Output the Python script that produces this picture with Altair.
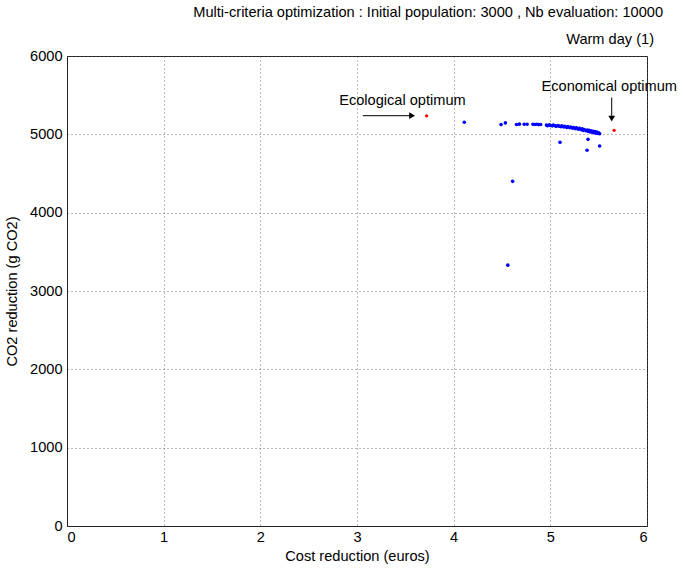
import altair as alt
import pandas as pd

# Pareto front (blue)
front_cost = [4.11, 4.49, 4.535, 4.65, 4.68, 4.73, 4.76, 4.82, 4.84, 4.86, 4.88, 4.90,
              4.96, 4.97, 4.99, 5.00, 5.02, 5.03, 5.05, 5.06, 5.08, 5.09, 5.11, 5.12,
              5.14, 5.15, 5.17, 5.18, 5.20, 5.21, 5.23, 5.24, 5.26, 5.27, 5.29, 5.30,
              5.32, 5.33, 5.34, 5.35, 5.37, 5.38, 5.39, 5.40, 5.41, 5.42, 5.43, 5.44,
              5.45, 5.46, 5.47, 5.48, 5.49, 5.50, 5.51,
              5.10, 5.39, 5.38, 5.51, 4.61, 4.56]
front_co2 = [5155, 5124, 5146, 5125, 5130, 5128, 5128, 5128, 5126, 5128, 5124, 5126,
             5118, 5110, 5122, 5112, 5108, 5118, 5110, 5102, 5112, 5104, 5098, 5108,
             5094, 5102, 5088, 5098, 5084, 5093, 5078, 5088, 5072, 5082, 5064, 5076,
             5058, 5070, 5050, 5062, 5045, 5056, 5038, 5050, 5032, 5044, 5026, 5040,
             5020, 5034, 5016, 5028, 5012, 5020, 5008,
             4898, 4936, 4797, 4851, 4400, 3330]

# Optima (red)
opt_cost = [3.72, 5.66]
opt_co2 = [5236, 5051]

# Annotations
ann_text = ["Ecological optimum", "Economical optimum"]
ann_x = [3.47, 5.61]
ann_y = [5426, 5610]

title_line1 = "Multi-criteria optimization : Initial population: 3000 , Nb evaluation: 10000"
title_line2 = "Warm day (1)"

x_ticks = [0, 1, 2, 3, 4, 5, 6]
y_ticks = [0, 1000, 2000, 3000, 4000, 5000, 6000]

FONT = "Liberation Sans"
FS = 14.6

front = pd.DataFrame({"cost": front_cost, "co2": front_co2})
opt = pd.DataFrame({"cost": opt_cost, "co2": opt_co2})
ann = pd.DataFrame({"label": ann_text, "cost": ann_x, "co2": ann_y})

xs = alt.Scale(domain=[0, 6], nice=False, zero=False)
ys = alt.Scale(domain=[0, 6000], nice=False, zero=False)

common = dict(grid=True, gridDash=[1, 3], gridColor="#555555", gridOpacity=0.8,
              tickSize=0, format="d",
              labelFontSize=FS, titleFontSize=FS, labelFont=FONT, titleFont=FONT,
              labelColor="black", titleColor="black", titleFontWeight="normal",
              domainColor="#222222")
xax = alt.Axis(values=x_ticks, title="Cost reduction (euros)",
               labelPadding=3, titlePadding=5, **common)
yax = alt.Axis(values=y_ticks, title="CO2 reduction (g CO2)",
               labelPadding=5, titlePadding=10, **common)

pts = alt.Chart(front).mark_circle(size=13, color="#0000ff", opacity=1).encode(
    x=alt.X("cost:Q", scale=xs, axis=xax),
    y=alt.Y("co2:Q", scale=ys, axis=yax),
)
red = alt.Chart(opt).mark_circle(size=11, color="#ff0000", opacity=1).encode(
    x=alt.X("cost:Q", scale=xs),
    y=alt.Y("co2:Q", scale=ys),
)
labels = alt.Chart(ann).mark_text(font=FONT, fontSize=FS, color="black").encode(
    x=alt.X("cost:Q", scale=xs),
    y=alt.Y("co2:Q", scale=ys),
    text="label:N",
)

# arrows
arr_h = pd.DataFrame({"x1": [3.06], "x2": [3.55], "y": [5238]})
arr_v = pd.DataFrame({"x": [5.635], "y1": [5470], "y2": [5230]})
head_r = pd.DataFrame({"x": [3.57], "y": [5238]})
head_d = pd.DataFrame({"x": [5.635], "y": [5200]})

rule_h = alt.Chart(arr_h).mark_rule(color="black", strokeWidth=1).encode(
    x=alt.X("x1:Q", scale=xs), x2="x2:Q", y=alt.Y("y:Q", scale=ys))
rule_v = alt.Chart(arr_v).mark_rule(color="black", strokeWidth=1).encode(
    x=alt.X("x:Q", scale=xs), y=alt.Y("y1:Q", scale=ys), y2="y2:Q")
hr = alt.Chart(head_r).mark_point(shape="triangle-right", filled=True, color="black",
                                  size=45, opacity=1).encode(
    x=alt.X("x:Q", scale=xs), y=alt.Y("y:Q", scale=ys))
hd = alt.Chart(head_d).mark_point(shape="triangle-down", filled=True, color="black",
                                  size=45, opacity=1).encode(
    x=alt.X("x:Q", scale=xs), y=alt.Y("y:Q", scale=ys))

t1 = alt.Chart(pd.DataFrame({"t": [title_line1]})).mark_text(
    font=FONT, fontSize=FS, color="black", align="right", baseline="middle").encode(
    x=alt.value(596), y=alt.value(-43), text="t:N")
t2 = alt.Chart(pd.DataFrame({"t": [title_line2]})).mark_text(
    font=FONT, fontSize=FS, color="black", align="right", baseline="middle").encode(
    x=alt.value(587), y=alt.value(-16), text="t:N")

chart = alt.layer(rule_h, rule_v, hr, hd, pts, red, labels, t1, t2).properties(
    width=580, height=470,
    autosize=alt.AutoSizeParams(type="none"),
    padding={"left": 67, "top": 56, "right": 36, "bottom": 44},
    background="white",
).configure_view(stroke="#222222", strokeWidth=1)

chart.save("out.html", embed_options={"renderer": "svg", "actions": False})
